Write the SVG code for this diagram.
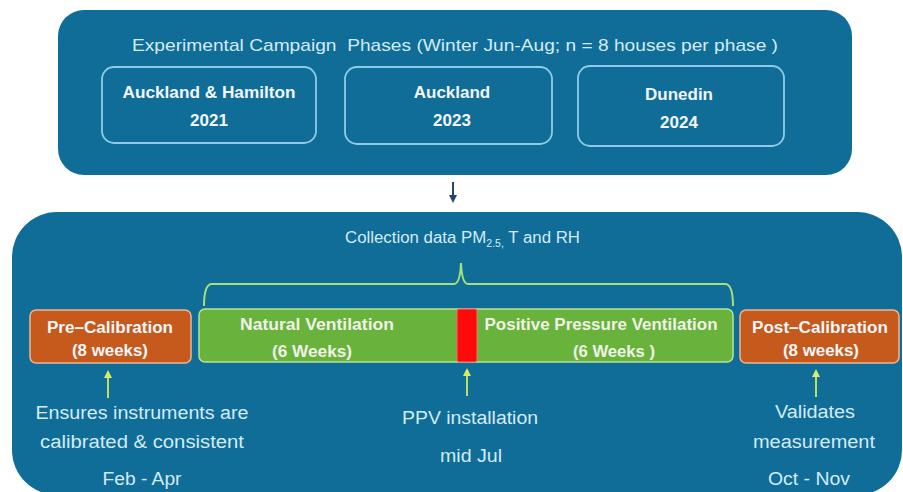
<svg xmlns="http://www.w3.org/2000/svg" width="903" height="492" viewBox="0 0 903 492">
<style>
.panel{fill:#0f6d98}
.yr{fill:none;stroke:#8fcbe8;stroke-width:1.8}
.t{font-family:"Liberation Sans",Arial,sans-serif;fill:#d4ebf6}
.b{font-family:"Liberation Sans",Arial,sans-serif;font-weight:bold;fill:#f2f6f8;text-anchor:middle}
.bw{font-family:"Liberation Sans",Arial,sans-serif;font-weight:bold;fill:#eef3e6;text-anchor:middle}
.ds{font-family:"Liberation Sans",Arial,sans-serif;fill:#d4ebf6;text-anchor:middle;font-size:18px}
.cal{fill:#c55a1c;stroke:#f0b690;stroke-width:1.5}
.grn{fill:#69b23c;stroke:#b8e396;stroke-width:1.5}
.up{stroke:#b6e06a;stroke-width:2;fill:none;marker-end:url(#ah)}
</style>
<defs>
<marker id="ah" viewBox="0 0 10 10" refX="5" refY="5" markerWidth="4" markerHeight="4" orient="auto">
<path d="M0,0 L10,5 L0,10 z" fill="#d8ec6a"/>
</marker>
<marker id="ad" viewBox="0 0 10 10" refX="5" refY="5" markerWidth="4" markerHeight="4" orient="auto">
<path d="M0,0 L10,5 L0,10 z" fill="#28456a"/>
</marker>
</defs>

<g id="phases">
<rect class="panel" x="58" y="10" width="794" height="165" rx="26"/>
<text class="t" x="132" y="51" font-size="17" textLength="646" lengthAdjust="spacingAndGlyphs" xml:space="preserve">Experimental Campaign  Phases (Winter Jun-Aug; n = 8 houses per phase )</text>
</g>
<g id="phase-2021">
<rect class="yr" x="102" y="67" width="214" height="76" rx="12"/>
<text class="b" x="209" y="98" font-size="17" textLength="173" lengthAdjust="spacingAndGlyphs">Auckland &amp; Hamilton</text>
<text class="b" x="209" y="126" font-size="17">2021</text>
</g>
<g id="phase-2023">
<rect class="yr" x="345" y="67" width="207" height="77" rx="12"/>
<text class="b" x="452" y="98" font-size="17">Auckland</text>
<text class="b" x="452" y="126" font-size="17">2023</text>
</g>
<g id="phase-2024">
<rect class="yr" x="578" y="66" width="206" height="80" rx="12"/>
<text class="b" x="679" y="100" font-size="17">Dunedin</text>
<text class="b" x="679" y="128" font-size="17">2024</text>
</g>

<g id="collection">
<rect class="panel" x="12" y="212" width="890" height="283" rx="45"/>
<text class="t" x="345" y="243" font-size="16" textLength="235" lengthAdjust="spacingAndGlyphs">Collection data PM<tspan font-size="10" dy="4">2.5,</tspan><tspan dy="-4"> T and RH</tspan></text>
<path d="M204,306 Q204,284 212,284 L454,284 Q460,284 461,263 Q462,284 468,284 L725,284 Q733,284 733,306" fill="none" stroke="#a6df7c" stroke-width="2"/>
</g>

<g id="pre-calibration">
<rect class="cal" x="30" y="310" width="161" height="53" rx="6"/>
<text class="b" x="110" y="333" font-size="16" textLength="126" lengthAdjust="spacingAndGlyphs">Pre–Calibration</text>
<text class="b" x="110" y="356" font-size="16" textLength="76" lengthAdjust="spacingAndGlyphs">(8 weeks)</text>
</g>
<g id="ventilation">
<rect class="grn" x="199" y="309" width="534" height="53" rx="6"/>
<text class="bw" x="317" y="330" font-size="16" textLength="154" lengthAdjust="spacingAndGlyphs">Natural Ventilation</text>
<text class="bw" x="312" y="357" font-size="16" textLength="80" lengthAdjust="spacingAndGlyphs">(6 Weeks)</text>
<text class="bw" x="601" y="330" font-size="16" textLength="233" lengthAdjust="spacingAndGlyphs">Positive Pressure Ventilation</text>
<text class="bw" x="614" y="357" font-size="16" textLength="82" lengthAdjust="spacingAndGlyphs" xml:space="preserve">(6 Weeks )</text>
</g>
<g id="ppv-install">
<rect x="457" y="309" width="20" height="53" rx="2" fill="#ff0a0a" stroke="#f07070" stroke-width="1"/>
</g>
<g id="post-calibration">
<rect class="cal" x="740" y="310" width="159" height="53" rx="6"/>
<text class="b" x="820" y="333" font-size="16" textLength="136" lengthAdjust="spacingAndGlyphs">Post–Calibration</text>
<text class="b" x="821" y="356" font-size="16" textLength="76" lengthAdjust="spacingAndGlyphs">(8 weeks)</text>
</g>

<g id="note-pre">
<text class="ds" x="142" y="419" textLength="213" lengthAdjust="spacingAndGlyphs">Ensures instruments are</text>
<text class="ds" x="142" y="448" textLength="204" lengthAdjust="spacingAndGlyphs">calibrated &amp; consistent</text>
<text class="ds" x="142" y="485" textLength="79" lengthAdjust="spacingAndGlyphs">Feb - Apr</text>
</g>
<g id="note-ppv">
<text class="ds" x="470" y="424" textLength="136" lengthAdjust="spacingAndGlyphs">PPV installation</text>
<text class="ds" x="471" y="462" textLength="62" lengthAdjust="spacingAndGlyphs">mid Jul</text>
</g>
<g id="note-post">
<text class="ds" x="815" y="418" textLength="80" lengthAdjust="spacingAndGlyphs">Validates</text>
<text class="ds" x="814" y="448" textLength="122" lengthAdjust="spacingAndGlyphs">measurement</text>
<text class="ds" x="809" y="485" textLength="82" lengthAdjust="spacingAndGlyphs">Oct - Nov</text>
</g>

<g id="connectors">
<line x1="453" y1="182" x2="453" y2="199" stroke="#28456a" stroke-width="2" marker-end="url(#ad)"/>
<line class="up" x1="108" y1="398" x2="108" y2="374"/>
<line class="up" x1="467" y1="396" x2="467" y2="372"/>
<line class="up" x1="816" y1="397" x2="816" y2="373"/>
</g>
</svg>
